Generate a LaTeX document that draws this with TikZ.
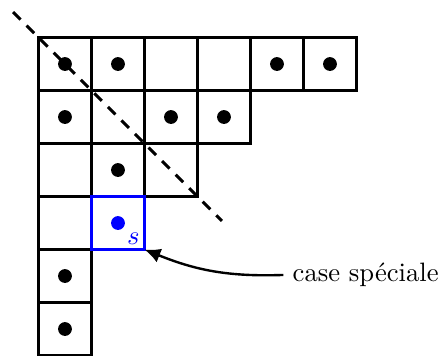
\documentclass[tikz,border=0pt]{standalone}
\usetikzlibrary{arrows.meta}
\begin{document}
\begin{tikzpicture}[x=0.7cm,y=0.7cm,
  cellbox/.style={line width=1.1pt},
  dotmark/.style={fill=black},
  guide/.style={line width=1.1pt,dashed,dash pattern=on 4pt off 3.2pt},
  special/.style={draw=blue,line width=1.1pt},
  arrowline/.style={line width=0.9pt,-{Latex[length=6pt,width=5.5pt]}}]
\useasboundingbox (-0.726,0.708) rectangle (7.576,-6.0);
% cells: row r (0..5), number of cells
\foreach \r/\n in {0/6,1/4,2/3,3/2,4/1,5/1}{
  \foreach \c in {1,...,\n}{
    \draw[cellbox] (\c-1,-\r) rectangle (\c,-\r-1);
  }
}
% dots
\foreach \c/\r in {0/0,1/0,4/0,5/0,0/1,2/1,3/1,1/2,0/4,0/5}{
  \fill[dotmark] (\c+0.5,-\r-0.5) circle (2.6pt);
}
% dashed diagonal
\coordinate (d1) at (-0.48,0.48);
\coordinate (d2) at (3.46,-3.46);
\draw[guide] (d1) -- (d2);
% special cell
\draw[special] (1,-3) rectangle (2,-4);
\fill[blue] (1.5,-3.5) circle (2.6pt);
\coordinate (corner) at (2,-4);
\node[anchor=south east,inner sep=1.6pt,text=blue] (slabel) at (corner) {$s$};
% label and arrow
\node[anchor=west] (lbl) at (4.62,-4.48) {case spéciale};
\draw[arrowline] (lbl.west) to[out=182,in=-22] (corner);
\end{tikzpicture}
\end{document}
